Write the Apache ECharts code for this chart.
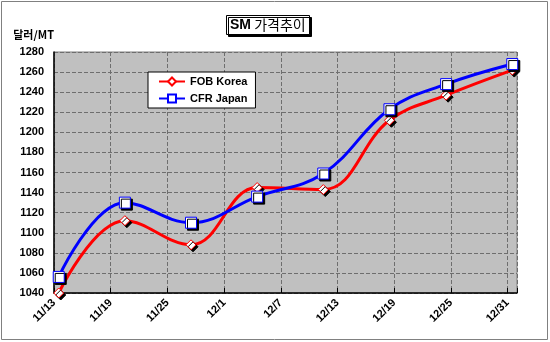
<!DOCTYPE html>
<html><head><meta charset="utf-8">
<script src="https://cdn.jsdelivr.net/npm/echarts@6/dist/echarts.min.js"></script>
<style>html,body{margin:0;padding:0;background:#fff}#c{width:550px;height:342px}</style>
</head><body><div id="c"></div>
<script>
const dates = ['11/13','11/20','11/27','12/4','12/11','12/18','12/24','12/31'];
const fobKorea = [1040, 1112, 1088, 1145, 1143, 1212, 1237, 1262];
const cfrJapan = [1056, 1130, 1110, 1136, 1159, 1223, 1248, 1268];
const xTickLabels = ['11/13','11/19','11/25','12/1','12/7','12/13','12/19','12/25','12/31'];
const yTicks = [1040,1060,1080,1100,1120,1140,1160,1180,1200,1220,1240,1260,1280];

function dayOffset(s){ const [m,d]=s.split('/').map(Number); return (m===11? d : 30+d) - 13; }
// Excel date axis plots each day's value at the middle of its day slot
const pts = arr => arr.map((v,i)=>[dayOffset(dates[i])+0.5, v]);

const font = '"Liberation Sans", Arial, sans-serif';
const chart = echarts.init(document.getElementById('c'));
chart.setOption({
  animation:false,
  backgroundColor:'#fff',
  title:{
    text:'{b|SM} 가격추이', left:226, top:15,
    backgroundColor:'#fff', borderColor:'#000', borderWidth:1, padding:[3,4,3,4],
    shadowColor:'#000', shadowOffsetX:2, shadowOffsetY:2, shadowBlur:0,
    textStyle:{fontFamily:'"Noto Sans CJK KR", '+font, fontSize:14, fontWeight:'normal', color:'#000',
      rich:{b:{fontFamily:font, fontSize:14, fontWeight:'bold', color:'#000'}}}
  },
  graphic:[{type:'rect', shape:{x:1.5,y:1.5,width:546,height:338}, style:{fill:null, stroke:'#808080', lineWidth:1}, silent:true}],
  legend:{
    orient:'vertical', left:148, top:72,
    backgroundColor:'#fff', borderColor:'#000', borderWidth:1, padding:[4,8,4,10], itemGap:6,
    itemWidth:26, itemHeight:10,
    textStyle:{fontFamily:font, fontSize:11, fontWeight:'bold', color:'#000'},
    data:['FOB Korea','CFR Japan']
  },
  grid:{left:54, right:33, top:52, bottom:49, show:true, backgroundColor:'#c0c0c0', borderColor:'#808080', borderWidth:1},
  xAxis:{
    type:'value', min:0, max:49, interval:6,
    axisLine:{show:true, lineStyle:{color:'#000', width:1.5}},
    axisTick:{show:true, inside:true, length:5, lineStyle:{color:'#000'}},
    axisLabel:{rotate:45, margin:8, fontFamily:font, fontSize:11, fontWeight:'bold', color:'#000',
      formatter:v=>{const i=Math.round(v/6); return (v%6===0 && xTickLabels[i])?xTickLabels[i]:'';}},
    splitLine:{show:true, lineStyle:{color:'#6e6e6e', type:[4,2], width:1}}
  },
  yAxis:{
    type:'value', min:yTicks[0], max:yTicks[yTicks.length-1], interval:20,
    name:'달러/MT', nameLocation:'end', nameGap:12,
    nameTextStyle:{fontFamily:'"Noto Sans CJK KR", '+font, fontSize:11, fontWeight:'bold', color:'#000', align:'right'},
    axisLine:{show:true, lineStyle:{color:'#000', width:1.5}},
    axisTick:{show:false},
    axisLabel:{margin:10, fontFamily:font, fontSize:11, fontWeight:'bold', color:'#000', formatter:v=>String(v)},
    splitLine:{show:true, lineStyle:{color:'#6e6e6e', type:[4,2], width:1}}
  },
  series:[
    {name:'FOB Korea', type:'line', data:pts(fobKorea), smooth:0.4, symbol:'diamond', symbolSize:10,
      lineStyle:{color:'#ff0000', width:3},
      itemStyle:{color:'#fff', borderColor:'#ff0000', borderWidth:1, shadowColor:'#000', shadowOffsetX:2, shadowOffsetY:2, shadowBlur:0},
      z:3},
    {name:'CFR Japan', type:'line', data:pts(cfrJapan), smooth:0.4, symbol:'rect', symbolSize:11,
      lineStyle:{color:'#0000ff', width:3},
      itemStyle:{color:'#fff', borderColor:'#0000ff', borderWidth:1, shadowColor:'#000', shadowOffsetX:2, shadowOffsetY:2, shadowBlur:0},
      z:4}
  ]
});
</script></body></html>
